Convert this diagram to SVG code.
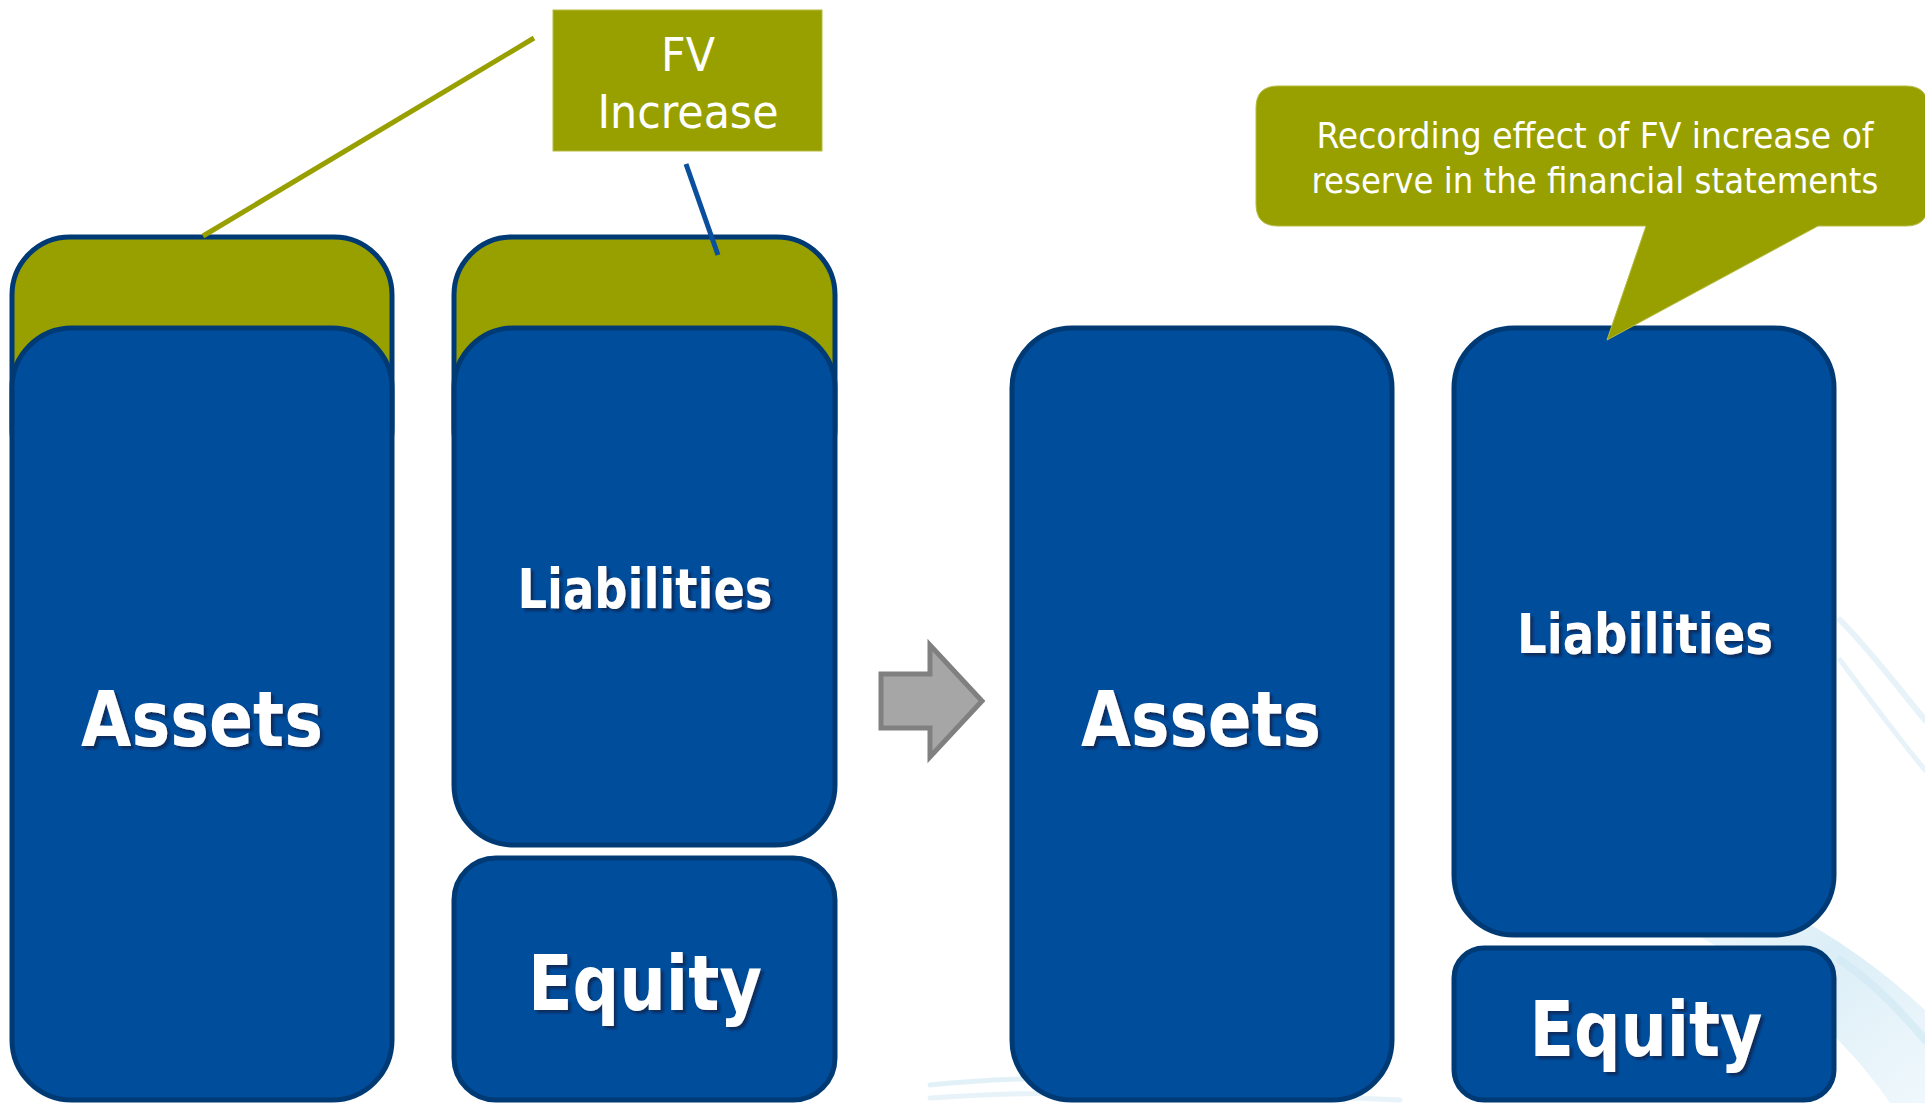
<svg xmlns="http://www.w3.org/2000/svg" width="1925" height="1103" viewBox="0 0 1925 1103">
<defs>
<style>
.box{fill:#004d9c;stroke:#003a75;stroke-width:5}
.top{fill:#98a000;stroke:#003a75;stroke-width:5}
.big{font-family:"DejaVu Sans","Liberation Sans",sans-serif;font-weight:bold;fill:#ffffff;text-anchor:middle;filter:url(#sh)}
.lbl{font-family:"DejaVu Sans Condensed","DejaVu Sans","Liberation Sans",sans-serif;fill:#ffffff;text-anchor:middle}
.swirl{fill:none;stroke:#cfe7f4;stroke-linecap:round}
</style>
<filter id="sh" x="-10%" y="-20%" width="130%" height="150%">
<feDropShadow dx="3" dy="3" stdDeviation="1.2" flood-color="#10204a" flood-opacity="0.75"/>
</filter>
<linearGradient id="sw" x1="0" y1="0" x2="1" y2="1">
<stop offset="0" stop-color="#e6f3fa" stop-opacity="0"/>
<stop offset="0.6" stop-color="#bfe0f0" stop-opacity="0.8"/>
<stop offset="1" stop-color="#d9eef8" stop-opacity="0.6"/>
</linearGradient>
</defs>
<rect x="0" y="0" width="1925" height="1103" fill="#ffffff"/>
<g id="background">
<path d="M1560,820 C1700,860 1830,920 1925,1010 L1925,1103 L1890,1103 C1820,1000 1700,920 1560,880 Z" fill="url(#sw)" opacity="0.7"/>
<path class="swirl" d="M1840,620 C1870,650 1900,690 1925,720" stroke-width="6" opacity="0.5"/>
<path class="swirl" d="M1840,660 C1870,700 1900,740 1925,770" stroke-width="5" opacity="0.5"/>
<path class="swirl" d="M1840,960 C1870,980 1900,1010 1925,1040" stroke-width="8" opacity="0.6"/>
<path class="swirl" d="M930,1085 C1000,1078 1100,1075 1200,1080" stroke-width="5" opacity="0.6"/>
<path class="swirl" d="M930,1098 C1050,1090 1200,1090 1400,1100" stroke-width="5" opacity="0.5"/>
</g>
<g id="left-assets">
<rect class="top" x="12" y="237" width="380" height="250" rx="58" ry="58"/>
<rect class="box" x="12" y="328" width="380" height="772" rx="60" ry="60"/>
<text class="big" x="202" y="746" font-size="76" textLength="242" lengthAdjust="spacingAndGlyphs">Assets</text>
</g>
<g id="left-liabilities">
<rect class="top" x="454" y="237" width="381" height="250" rx="58" ry="58"/>
<rect class="box" x="454" y="328" width="381" height="517" rx="60" ry="60"/>
<text class="big" x="645" y="608" font-size="56" textLength="255" lengthAdjust="spacingAndGlyphs">Liabilities</text>
</g>
<g id="left-equity">
<rect class="box" x="454" y="858" width="381" height="242" rx="42" ry="42"/>
<text class="big" x="645" y="1010" font-size="76" textLength="234" lengthAdjust="spacingAndGlyphs">Equity</text>
</g>
<g id="fv-increase">
<rect x="553" y="10" width="269" height="141" fill="#98a000" stroke="#b5bb40" stroke-width="1"/>
<text class="lbl" x="688" y="71" font-size="47" textLength="54" lengthAdjust="spacingAndGlyphs">FV</text>
<text class="lbl" x="688" y="128" font-size="47" textLength="181" lengthAdjust="spacingAndGlyphs">Increase</text>
</g>
<g id="arrow">
<path d="M881,674 H930 V645 L982,701 L930,757 V728 H881 Z" fill="#a6a6a6" stroke="#808080" stroke-width="5" stroke-linejoin="miter"/>
</g>
<g id="right-assets">
<rect class="box" x="1012" y="328" width="380" height="772" rx="60" ry="60"/>
<text class="big" x="1201" y="746" font-size="76" textLength="240" lengthAdjust="spacingAndGlyphs">Assets</text>
</g>
<g id="right-liabilities">
<rect class="box" x="1454" y="328" width="380" height="607" rx="60" ry="60"/>
<text class="big" x="1645" y="653" font-size="56" textLength="256" lengthAdjust="spacingAndGlyphs">Liabilities</text>
</g>
<g id="right-equity">
<rect class="box" x="1454" y="948" width="380" height="152" rx="30" ry="30"/>
<text class="big" x="1646" y="1056" font-size="76" textLength="233" lengthAdjust="spacingAndGlyphs">Equity</text>
</g>
<g id="callout">
<path d="M1278,86 H1906 Q1928,86 1928,108 V204 Q1928,226 1906,226 H1818 L1607,340 L1646,226 H1278 Q1256,226 1256,204 V108 Q1256,86 1278,86 Z" fill="#98a000" stroke="#b5bb40" stroke-width="1"/>
<text class="lbl" x="1595" y="148" font-size="35" textLength="557" lengthAdjust="spacingAndGlyphs">Recording effect of FV increase of</text>
<text class="lbl" x="1595" y="193" font-size="35" textLength="567" lengthAdjust="spacingAndGlyphs">reserve in the financial statements</text>
</g>
<g id="connectors">
<line x1="203" y1="236" x2="534" y2="38" stroke="#98a000" stroke-width="5"/>
<line x1="686" y1="164" x2="718" y2="255" stroke="#0a4f9e" stroke-width="5"/>
</g>
</svg>
